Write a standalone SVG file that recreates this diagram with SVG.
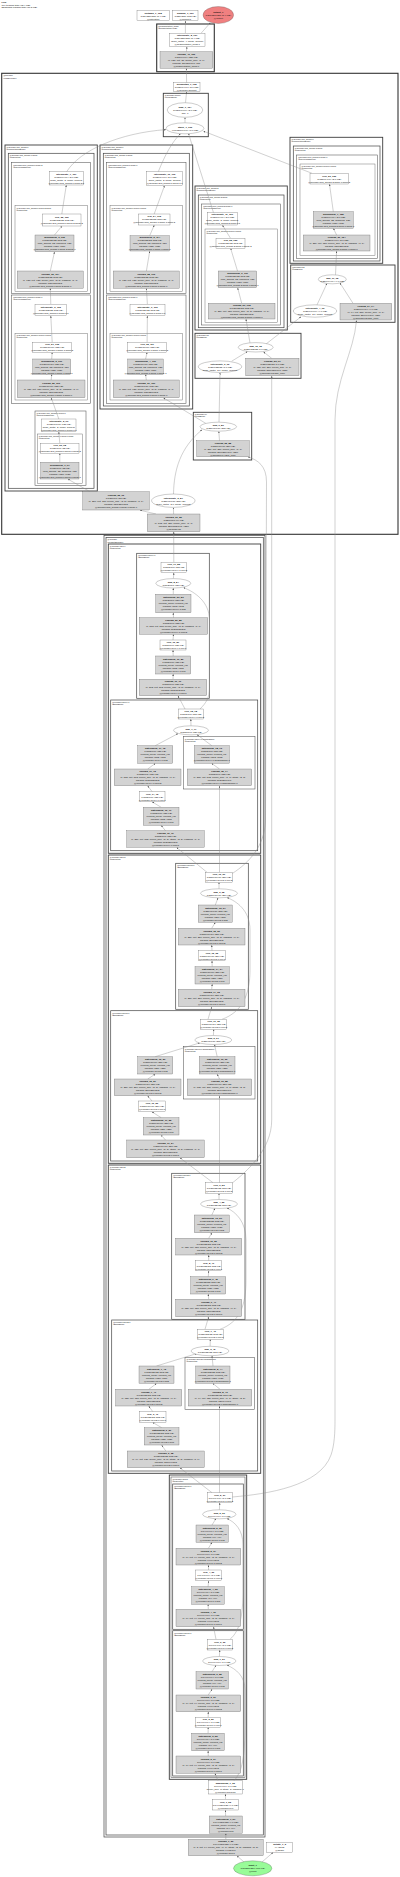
<svg xmlns="http://www.w3.org/2000/svg" width="400" height="1877" viewBox="0 0 400 1877">
<defs>
<style>
text{font-family:"Liberation Sans",Arial,sans-serif;font-size:2.4px;fill:#111}
.t{text-anchor:middle}
.b{font-weight:bold}
.lb{font-size:2.1px}
.w{fill:#fff;stroke:#555;stroke-width:.3}
.g{fill:#d3d3d3;stroke:#555;stroke-width:.3}
.e{fill:#fff;stroke:#555;stroke-width:.3}
.c1{fill:none;stroke:#333;stroke-width:1.1}
.c2{fill:none;stroke:#3c3c3c;stroke-width:.9}
.c3{fill:none;stroke:#444;stroke-width:.7}
.c4{fill:none;stroke:#555;stroke-width:.55}
.c5{fill:none;stroke:#666;stroke-width:.45}
#edges path{fill:none;stroke:#8a8a8a;stroke-width:.4;marker-end:url(#ah)}
</style>
<marker id="ah" viewBox="0 0 10 10" refX="10" refY="5" markerUnits="userSpaceOnUse" markerWidth="1.8" markerHeight="1.8" orient="auto"><path d="M0,0L10,5L0,10z" fill="#555"/></marker>
</defs>
<rect width="400" height="1877" fill="#fff"/>
<g id="title"><text x="1.5" y="3.2" class="b">FPN</text><text x="1.5" y="5.6">169 tensors total (62.4 MB)</text><text x="1.5" y="8">23156565 params total (88.3 MB)</text></g>

<g id="clusters">
<g id="cl_head"><rect class="c1" x="156.7" y="24" width="57.6" height="47.7"/><text class="lb" x="158" y="26.8">@segmentation_head</text><text class="lb" x="158" y="29.1">(SegmentationHead)</text></g>
<g id="cl_decoder"><rect class="c1" x="1.7" y="73.3" width="396.3" height="461" stroke-width="1.4"/><text class="lb" x="3.2" y="76.4">@decoder</text><text class="lb" x="3.2" y="78.7">(FPNDecoder)</text></g>
<g id="cl_merge"><rect class="c2" x="163.3" y="93.3" width="45" height="43.4"/><text class="lb" x="164.6" y="96.1">@decoder.merge</text><text class="lb" x="164.6" y="98.4">(MergeBlock)</text></g>
<g id="cl_sb0"><rect class="c2" x="5" y="145" width="92.3" height="346"/><text class="lb" x="6.3" y="147.8">@decoder.seg_blocks.0</text><text class="lb" x="6.3" y="150.1">(SegmentationBlock)</text></g>
<g id="cl_sb0b"><rect class="c3" x="8.3" y="153.3" width="85.7" height="335"/><text class="lb" x="9.6" y="156.1">@decoder.seg_blocks.0.block</text><text class="lb" x="9.6" y="158.4">(Sequential)</text></g>
<g id="cl_sb0b2"><rect class="c4" x="11.7" y="162.7" width="79" height="131"/><text class="lb" x="13" y="165.5">@decoder.seg_blocks.0.block.2</text><text class="lb" x="13" y="167.8">(Conv3x3GNReLU)</text></g>
<g id="cl_sb0b2b"><rect class="c5" x="15" y="205.7" width="72.3" height="85.6"/><text class="lb" x="16.3" y="208.5">@decoder.seg_blocks.0.block.2.block</text><text class="lb" x="16.3" y="210.8">(Sequential)</text></g>
<g id="cl_sb0b1"><rect class="c4" x="11.7" y="295" width="79" height="108.3"/><text class="lb" x="13" y="297.8">@decoder.seg_blocks.0.block.1</text><text class="lb" x="13" y="300.1">(Conv3x3GNReLU)</text></g>
<g id="cl_sb0b1b"><rect class="c5" x="15" y="333.3" width="72.3" height="66.7"/><text class="lb" x="16.3" y="336.1">@decoder.seg_blocks.0.block.1.block</text><text class="lb" x="16.3" y="338.4">(Sequential)</text></g>
<g id="cl_sb0b0"><rect class="c4" x="35" y="411" width="51" height="74.7"/><text class="lb" x="36.3" y="413.8">@decoder.seg_blocks.0.block.0</text><text class="lb" x="36.3" y="416.1">(Conv3x3GNReLU)</text></g>
<g id="cl_sb0b0b"><rect class="c5" x="37.3" y="434" width="45.4" height="49.3"/><text class="lb" x="38.6" y="436.8">@decoder.seg_blocks.0.block.0.block</text><text class="lb" x="38.6" y="439.1">(Sequential)</text></g>
<g id="cl_sb1"><rect class="c2" x="100" y="145" width="92.7" height="264"/><text class="lb" x="101.3" y="147.8">@decoder.seg_blocks.1</text><text class="lb" x="101.3" y="150.1">(SegmentationBlock)</text></g>
<g id="cl_sb1b"><rect class="c3" x="103.3" y="153.3" width="86" height="252.7"/><text class="lb" x="104.6" y="156.1">@decoder.seg_blocks.1.block</text><text class="lb" x="104.6" y="158.4">(Sequential)</text></g>
<g id="cl_sb1b1"><rect class="c4" x="106.7" y="162.7" width="79.3" height="131"/><text class="lb" x="108" y="165.5">@decoder.seg_blocks.1.block.1</text><text class="lb" x="108" y="167.8">(Conv3x3GNReLU)</text></g>
<g id="cl_sb1b1b"><rect class="c5" x="110" y="205.7" width="72.7" height="85.6"/><text class="lb" x="111.3" y="208.5">@decoder.seg_blocks.1.block.1.block</text><text class="lb" x="111.3" y="210.8">(Sequential)</text></g>
<g id="cl_sb1b0"><rect class="c4" x="106.7" y="295" width="79.3" height="108.5"/><text class="lb" x="108" y="297.8">@decoder.seg_blocks.1.block.0</text><text class="lb" x="108" y="300.1">(Conv3x3GNReLU)</text></g>
<g id="cl_sb1b0b"><rect class="c5" x="110" y="333.3" width="72.7" height="66.7"/><text class="lb" x="111.3" y="336.1">@decoder.seg_blocks.1.block.0.block</text><text class="lb" x="111.3" y="338.4">(Sequential)</text></g>
<g id="cl_sb2"><rect class="c2" x="195" y="186" width="92.3" height="144"/><text class="lb" x="196.3" y="188.8">@decoder.seg_blocks.2</text><text class="lb" x="196.3" y="191.1">(SegmentationBlock)</text></g>
<g id="cl_sb2b"><rect class="c3" x="198.3" y="195" width="85.7" height="132.7"/><text class="lb" x="199.6" y="197.8">@decoder.seg_blocks.2.block</text><text class="lb" x="199.6" y="200.1">(Sequential)</text></g>
<g id="cl_sb2b0"><rect class="c4" x="201.7" y="204" width="79" height="121"/><text class="lb" x="203" y="206.8">@decoder.seg_blocks.2.block.0</text><text class="lb" x="203" y="209.1">(Conv3x3GNReLU)</text></g>
<g id="cl_sb2b0b"><rect class="c5" x="205" y="229" width="72.3" height="93.3"/><text class="lb" x="206.3" y="231.8">@decoder.seg_blocks.2.block.0.block</text><text class="lb" x="206.3" y="234.1">(Sequential)</text></g>
<g id="cl_sb3"><rect class="c2" x="290" y="137.3" width="92.7" height="126"/><text class="lb" x="291.3" y="140.1">@decoder.seg_blocks.3</text><text class="lb" x="291.3" y="142.4">(SegmentationBlock)</text></g>
<g id="cl_sb3b"><rect class="c3" x="293.3" y="146" width="86.7" height="115"/><text class="lb" x="294.6" y="148.8">@decoder.seg_blocks.3.block</text><text class="lb" x="294.6" y="151.1">(Sequential)</text></g>
<g id="cl_sb3b0"><rect class="c4" x="296.7" y="155" width="80.6" height="103.3"/><text class="lb" x="298" y="157.8">@decoder.seg_blocks.3.block.0</text><text class="lb" x="298" y="160.1">(Conv3x3GNReLU)</text></g>
<g id="cl_sb3b0b"><rect class="c5" x="300" y="164" width="75" height="91.7"/><text class="lb" x="301.3" y="166.8">@decoder.seg_blocks.3.block.0.block</text><text class="lb" x="301.3" y="169.1">(Sequential)</text></g>
<g id="cl_p2"><rect class="c2" x="290.7" y="265" width="104.3" height="57.3"/><text class="lb" x="292" y="267.8">@decoder.p2</text><text class="lb" x="292" y="270.1">(FPNBlock)</text></g>
<g id="cl_p3"><rect class="c2" x="195" y="333.3" width="106" height="45"/><text class="lb" x="196.3" y="336.1">@decoder.p3</text><text class="lb" x="196.3" y="338.4">(FPNBlock)</text></g>
<g id="cl_p4"><rect class="c2" x="193.3" y="412.3" width="58.4" height="47.7"/><text class="lb" x="194.6" y="415.1">@decoder.p4</text><text class="lb" x="194.6" y="417.4">(FPNBlock)</text></g>
<g id="cl_encoder"><rect class="c3" x="104" y="535.5" width="161" height="1301.5"/><rect class="c3" x="106" y="537.5" width="157.3" height="1297.5"/><text class="lb" x="107.3" y="540.2">@encoder</text><text class="lb" x="107.3" y="542.5">(ResNetEncoder)</text></g>
<g id="cl_layer4"><rect class="c2" x="108.3" y="544" width="152.4" height="309.3"/><text class="lb" x="109.6" y="546.8">@encoder.layer4</text><text class="lb" x="109.6" y="549.1">(Sequential)</text></g>
<g id="cl_layer4_1"><rect class="c3" x="136.7" y="553.3" width="72.6" height="145"/><text class="lb" x="138" y="556.1">@encoder.layer4.1</text><text class="lb" x="138" y="558.4">(BasicBlock)</text></g>
<g id="cl_layer4_0"><rect class="c3" x="110.7" y="700" width="147" height="150.7"/><text class="lb" x="112" y="702.8">@encoder.layer4.0</text><text class="lb" x="112" y="705.1">(BasicBlock)</text></g>
<g id="cl_layer4_0_ds"><rect class="c4" x="183.3" y="736.7" width="71.7" height="52.3"/><text class="lb" x="184.6" y="739.5">@encoder.layer4.0.downsample</text><text class="lb" x="184.6" y="741.8">(Sequential)</text></g>
<g id="cl_layer3"><rect class="c2" x="108.3" y="855" width="152.4" height="308.3"/><text class="lb" x="109.6" y="857.8">@encoder.layer3</text><text class="lb" x="109.6" y="860.1">(Sequential)</text></g>
<g id="cl_layer3_1"><rect class="c3" x="175.7" y="863.3" width="72.6" height="146"/><text class="lb" x="177" y="866.1">@encoder.layer3.1</text><text class="lb" x="177" y="868.4">(BasicBlock)</text></g>
<g id="cl_layer3_0"><rect class="c3" x="110.7" y="1010.7" width="147" height="150.3"/><text class="lb" x="112" y="1013.5">@encoder.layer3.0</text><text class="lb" x="112" y="1015.8">(BasicBlock)</text></g>
<g id="cl_layer3_0_ds"><rect class="c4" x="183.3" y="1046.7" width="71.7" height="52.3"/><text class="lb" x="184.6" y="1049.5">@encoder.layer3.0.downsample</text><text class="lb" x="184.6" y="1051.8">(Sequential)</text></g>
<g id="cl_layer2"><rect class="c2" x="108.3" y="1165" width="152.4" height="308.3"/><text class="lb" x="109.6" y="1167.8">@encoder.layer2</text><text class="lb" x="109.6" y="1170.1">(Sequential)</text></g>
<g id="cl_layer2_1"><rect class="c3" x="171.7" y="1173.3" width="73.3" height="146"/><text class="lb" x="173" y="1176.1">@encoder.layer2.1</text><text class="lb" x="173" y="1178.4">(BasicBlock)</text></g>
<g id="cl_layer2_0"><rect class="c3" x="111.7" y="1320" width="146" height="151"/><text class="lb" x="113" y="1322.8">@encoder.layer2.0</text><text class="lb" x="113" y="1325.1">(BasicBlock)</text></g>
<g id="cl_layer2_0_ds"><rect class="c4" x="185" y="1357.3" width="69.3" height="52"/><text class="lb" x="186.3" y="1360.1">@encoder.layer2.0.downsample</text><text class="lb" x="186.3" y="1362.4">(Sequential)</text></g>
<g id="cl_layer1"><rect class="c2" x="169.3" y="1475" width="77.4" height="304.3"/><rect class="c4" x="171" y="1477" width="74" height="300.7"/><text class="lb" x="172.2" y="1479.6">@encoder.layer1</text><text class="lb" x="172.2" y="1481.9">(Sequential)</text></g>
<g id="cl_layer1_1"><rect class="c3" x="172.7" y="1484" width="70.6" height="145.3"/><text class="lb" x="174" y="1486.8">@encoder.layer1.1</text><text class="lb" x="174" y="1489.1">(BasicBlock)</text></g>
<g id="cl_layer1_0"><rect class="c3" x="172.7" y="1630.7" width="70.6" height="145.3"/><text class="lb" x="174" y="1633.5">@encoder.layer1.0</text><text class="lb" x="174" y="1635.8">(BasicBlock)</text></g>
</g>

<g id="edges">
<path d="M244,1862 L237,1855.9"/>
<path d="M262,1862 L273,1852.5"/>
<path d="M225.8,1839.3 L225.8,1833.5"/>
<path d="M225.6,1816 L225.5,1810.2"/>
<path d="M225.5,1799.3 L225.4,1794.2"/>
<path d="M218,1780.7 L215,1773.5"/>
<path d="M234,1780.7 C244,1770 245,1750 245,1720 L245,1690 C245,1676 236,1669 227,1665.2"/>
<path d="M208.3,1756 L208.1,1750.9"/>
<path d="M208.1,1733.3 L208.2,1727.5"/>
<path d="M208.2,1717.3 L208.3,1711.9"/>
<path d="M208.3,1695 L212,1689.2"/>
<path d="M212,1671.7 L216,1665.2"/>
<path d="M219.4,1656.5 L219.7,1650.2"/>
<path d="M216,1639.3 L213.5,1626.9"/>
<path d="M230,1639.3 C240,1631 243,1615 243,1590 L243,1545 C243,1530 235,1522 227,1518.6"/>
<path d="M208.3,1609.3 L208.1,1604.5"/>
<path d="M208.1,1586.7 L208.6,1580.9"/>
<path d="M208.6,1570 L208.4,1565.2"/>
<path d="M208.4,1548.3 L212,1542.5"/>
<path d="M212,1525 L216,1518.6"/>
<path d="M219.4,1509.8 L219.7,1502.9"/>
<path d="M212,1492.7 L180,1467.9"/>
<path d="M219.5,1492.7 L219.5,1406.2"/>
<path d="M232.3,1497 C268,1494 320,1486 331,1455 C334.5,1445 335,1432 335,1420 L335,420 C335,380 354,352 356.5,320.5"/>
<path d="M165.8,1451 L161.7,1445.2"/>
<path d="M161.7,1427.7 L152.8,1422.5"/>
<path d="M152.8,1411.7 L148.8,1406.2"/>
<path d="M148.8,1389.3 L156.5,1383.5"/>
<path d="M156.5,1366 L197,1353.5"/>
<path d="M220,1389.3 L213,1383.5"/>
<path d="M213,1366 L212,1355.8"/>
<path d="M210.1,1346.3 L210.3,1339.5"/>
<path d="M205,1329.3 L208.6,1316.9"/>
<path d="M220,1329.3 C240,1322 246,1305 246,1280 L246,1240 C246,1222 236,1212 227,1208.1"/>
<path d="M208.7,1299.3 L208.3,1294.2"/>
<path d="M208.3,1276.7 L208.7,1270.9"/>
<path d="M208.7,1260.7 L208.7,1255.2"/>
<path d="M208.7,1238.3 L211.8,1232.9"/>
<path d="M211.8,1215 L215,1208.3"/>
<path d="M219,1199.5 L219,1193.5"/>
<path d="M213,1182.7 L180,1157.9"/>
<path d="M219.5,1182.7 L219.5,1095.9"/>
<path d="M232.3,1183 C246,1172 271.7,1150 271.7,1120 L271.7,376"/>
<path d="M165.5,1140 L161.2,1135.2"/>
<path d="M161.2,1117.7 L152,1111.9"/>
<path d="M152,1101 L147.7,1095.9"/>
<path d="M147.7,1079 L155.2,1074.2"/>
<path d="M155.2,1056.7 L200,1042.8"/>
<path d="M219.5,1079 L217.2,1074.2"/>
<path d="M217.2,1056.7 L214.5,1044.6"/>
<path d="M213.4,1035.5 L213.7,1029.5"/>
<path d="M208,1019.3 L211.7,1006.9"/>
<path d="M222,1019.3 C242,1012 250,995 250,970 L250,930 C250,910 236,901 227,897.6"/>
<path d="M211.7,989.3 L212.2,984.2"/>
<path d="M212.2,966.7 L212,960.9"/>
<path d="M212,950.7 L211.7,945.2"/>
<path d="M211.7,928.3 L215.3,922.5"/>
<path d="M215.3,905 L218,897.9"/>
<path d="M219,888.8 L219,882.5"/>
<path d="M207,872.3 L176.7,847.5"/>
<path d="M219.5,872.3 L219.5,785.9"/>
<path d="M232.3,873.5 C250,862 264,846 265.5,822 L266.5,482 C266.5,466 258,460 248,456.9"/>
<path d="M165.5,830.7 L161.2,825.5"/>
<path d="M161.2,807.3 L152.2,801.9"/>
<path d="M152.2,791.7 L147.7,785.9"/>
<path d="M147.7,769 L155.2,763.5"/>
<path d="M155.2,745.7 L178,733.6"/>
<path d="M219.5,769 L211.8,763.5"/>
<path d="M211.8,745.7 L197,734.6"/>
<path d="M191,725.8 L190.8,719.2"/>
<path d="M185,709 L178,695.9"/>
<path d="M200,709 C206,703 209.5,698 209.5,688 L209.5,620 C209.5,602 195,592 183.5,587.6"/>
<path d="M173,679.3 L173.2,674.2"/>
<path d="M173.2,656 L173,650.2"/>
<path d="M173,640 L173.5,634.5"/>
<path d="M173.5,617.7 L173.3,612.9"/>
<path d="M173.3,594.3 L173.3,588.2"/>
<path d="M173.4,578.6 L173.8,572.9"/>
<path d="M173.8,562.3 L173.7,531.9"/>
<path d="M173.6,514 L173.4,507.6"/>
<path d="M156,514 L140,510.2"/>
<path d="M90,491.7 L68,479.2"/>
<path d="M173.5,494 C174,470 180,448 202,429.8"/>
<path d="M219.5,440.7 L218.8,431.4"/>
<path d="M219,422.2 L220,372.7"/>
<path d="M206,423.5 L163.5,397.9"/>
<path d="M231.7,361.2 L247.5,351.5"/>
<path d="M271.7,358.3 L263.5,351.9"/>
<path d="M250,343 L246,319.2"/>
<path d="M266,344 L301,316.8"/>
<path d="M317,304.9 L327,283.4"/>
<path d="M353,303.3 L340,283"/>
<path d="M335.5,274.9 L336.6,251.2"/>
<path d="M336.6,235 L333.4,228.5"/>
<path d="M333.3,211.7 L329.5,184.2"/>
<path d="M312,173.3 L203.5,131.2"/>
<path d="M241.7,303.3 L237.7,287.9"/>
<path d="M237.5,271 L230.7,248.5"/>
<path d="M230.5,238.3 L222.5,225.2"/>
<path d="M213.5,212.7 L188.5,133.6"/>
<path d="M146.3,380 L145.6,374.5"/>
<path d="M145.6,359 L147.1,352.5"/>
<path d="M147.1,342.3 L147.4,315.9"/>
<path d="M147.4,304.3 L146.4,288.5"/>
<path d="M146.4,271 L149.7,251.2"/>
<path d="M149.7,235.7 L154.2,225.2"/>
<path d="M154.2,214 L164.5,185.7"/>
<path d="M158.3,171.7 C165,155 172,142 180.5,133.7"/>
<path d="M59.8,462.3 L59.8,453.5"/>
<path d="M59.8,443.3 L58.8,431.9"/>
<path d="M58.8,419 L51.3,397.9"/>
<path d="M51.2,380 L51.7,374.5"/>
<path d="M51.7,359 L52.2,352.5"/>
<path d="M52.2,342.3 L50.8,315.9"/>
<path d="M50.8,304.3 L50.3,288.5"/>
<path d="M50.3,271 L54.5,251.9"/>
<path d="M54.5,235 L61.8,226.2"/>
<path d="M61.8,214 L66.3,185.2"/>
<path d="M66.7,171.7 C80,150 120,133 166,129.6"/>
<path d="M185,122.8 L185,117.5"/>
<path d="M185.5,102.7 L186.6,91.9"/>
<path d="M186.6,82.7 L186.4,68.5"/>
<path d="M186.4,51.7 L186.9,46.9"/>
<path d="M185.4,33.3 L185.4,20.9"/>
<path d="M201,33.3 L210.5,22.6"/>
</g>

<g id="n_softmax"><rect class="w" x="137" y="10.7" width="32.3" height="10"/><text class="t" y="13.6"><tspan x="153.2" class="b">softmax_1_168</tspan><tspan x="153.2" dy="3">1x21x256x256 (5.4 MB)</tspan><tspan x="153.2" dy="3">@activation</tspan></text></g>
<g id="n_argmax"><rect class="w" x="172.7" y="10.7" width="25.3" height="10"/><text class="t" y="13.6"><tspan x="185.3" class="b">argmax_1_169</tspan><tspan x="185.3" dy="3">1x256x256 (512 KB)</tspan><tspan x="185.3" dy="3">@predict:1</tspan></text></g>
<g id="n_output"><ellipse cx="218.3" cy="15" rx="15.3" ry="8.5" fill="#f08080" stroke="#555" stroke-width=".3"/><text class="t" y="12.9"><tspan x="218.3" class="b">output_1</tspan><tspan x="218.3" dy="3">1x21x256x256 (5.4 MB)</tspan><tspan x="218.3" dy="3">@output</tspan></text></g>
<g id="n_interp_head"><rect class="w" x="169.3" y="33.3" width="35.7" height="13.4"/><text class="t" y="36.4"><tspan x="187.2" class="b">interpolate_8_167</tspan><tspan x="187.2" dy="3">1x21x256x256 (5.4 MB)</tspan><tspan x="187.2" dy="3">scale_factor=4, mode=bilinear</tspan><tspan x="187.2" dy="3">@segmentation_head.1</tspan></text></g>
<g id="n_conv_head"><rect class="g" x="160" y="51.7" width="52.7" height="16.6"/><text class="t" y="54.9"><tspan x="186.3" class="b">conv2d_40_166</tspan><tspan x="186.3" dy="3">1x21x64x64 (336 KB)</tspan><tspan x="186.3" dy="3">in=128, out=21, kernel_size=(1, 1)</tspan><tspan x="186.3" dy="3">params: 21x128x1x1, x21</tspan><tspan x="186.3" dy="3">@segmentation_head.0</tspan></text></g>
<g id="n_dropout"><rect class="w" x="173.3" y="82.7" width="26.7" height="9"/><text class="t" y="85.1"><tspan x="186.7" class="b">dropout2d_1_165</tspan><tspan x="186.7" dy="3">1x128x64x64 (2.0 MB)</tspan><tspan x="186.7" dy="3">@decoder.dropout</tspan></text></g>
<g id="n_relu_merge"><ellipse class="e" cx="185" cy="110" rx="17.8" ry="7.3"/><text class="t" y="107.9"><tspan x="185" class="b">sum_1_164</tspan><tspan x="185" dy="3">1x128x64x64 (2.0 MB)</tspan><tspan x="185" dy="3">dim=0</tspan></text></g>
<g id="n_stack"><ellipse class="e" cx="185" cy="128.3" rx="19" ry="5.5"/><text class="t" y="127.7"><tspan x="185" class="b">stack_1_163</tspan><tspan x="185" dy="3">4x1x128x64x64 (8.0 MB)</tspan></text></g>

<g id="n_sb0_interp3"><rect class="w" x="49.3" y="171.7" width="34" height="13.3"/><text class="t" y="174.7"><tspan x="66.3" class="b">interpolate_7_107</tspan><tspan x="66.3" dy="3">1x128x64x64 (2.0 MB)</tspan><tspan x="66.3" dy="3">scale_factor=2, mode=bilinear</tspan><tspan x="66.3" dy="3">@decoder.seg_blocks.0.block.2:1</tspan></text></g>
<g id="n_sb0_relu3"><rect class="w" x="42.7" y="214" width="38.3" height="12"/><text class="t" y="217.9"><tspan x="61.8" class="b">relu_22_106</tspan><tspan x="61.8" dy="3">1x128x32x32 (512 KB)</tspan><tspan x="61.8" dy="3">@decoder.seg_blocks.0.block.2.block.2</tspan></text></g>
<g id="n_sb0_gn3"><rect class="g" x="35" y="235" width="39" height="16.7"/><text class="t" y="238.2"><tspan x="54.5" class="b">groupnorm_3_105</tspan><tspan x="54.5" dy="3">1x128x32x32 (512 KB)</tspan><tspan x="54.5" dy="3">num_groups=32, channels=128</tspan><tspan x="54.5" dy="3">params: x128, x128</tspan><tspan x="54.5" dy="3">@decoder.seg_blocks.0.block.2.block.1</tspan></text></g>
<g id="n_sb0_conv3"><rect class="g" x="17.3" y="271" width="66" height="17.3"/><text class="t" y="274.6"><tspan x="50.3" class="b">conv2d_26_104</tspan><tspan x="50.3" dy="3">1x128x32x32 (512 KB)</tspan><tspan x="50.3" dy="3">in=128, out=128, kernel_size=(3, 3), padding=(1, 1)</tspan><tspan x="50.3" dy="3">params: 128x128x3x3</tspan><tspan x="50.3" dy="3">@decoder.seg_blocks.0.block.2.block.0</tspan></text></g>
<g id="n_sb0_interp2"><rect class="w" x="35" y="304.3" width="31.7" height="11.4"/><text class="t" y="307.9"><tspan x="50.8" class="b">interpolate_6_103</tspan><tspan x="50.8" dy="3">1x128x32x32 (512 KB)</tspan><tspan x="50.8" dy="3">@decoder.seg_blocks.0.block.1:1</tspan></text></g>
<g id="n_sb0_relu2"><rect class="w" x="32.7" y="342.3" width="39" height="10"/><text class="t" y="345.2"><tspan x="52.2" class="b">relu_21_102</tspan><tspan x="52.2" dy="3">1x128x16x16 (128 KB)</tspan><tspan x="52.2" dy="3">@decoder.seg_blocks.0.block.1.block.2</tspan></text></g>
<g id="n_sb0_gn2"><rect class="g" x="32.7" y="359" width="38" height="15.3"/><text class="t" y="361.6"><tspan x="51.7" class="b">groupnorm_2_101</tspan><tspan x="51.7" dy="3">1x128x16x16 (128 KB)</tspan><tspan x="51.7" dy="3">num_groups=32, channels=128</tspan><tspan x="51.7" dy="3">params: x128, x128</tspan><tspan x="51.7" dy="3">@decoder.seg_blocks.0.block.1.block.1</tspan></text></g>
<g id="n_sb0_conv2"><rect class="g" x="17.3" y="380" width="67.7" height="17.7"/><text class="t" y="383.7"><tspan x="51.2" class="b">conv2d_25_100</tspan><tspan x="51.2" dy="3">1x128x16x16 (128 KB)</tspan><tspan x="51.2" dy="3">in=128, out=128, kernel_size=(3, 3), padding=(1, 1)</tspan><tspan x="51.2" dy="3">params: 128x128x3x3</tspan><tspan x="51.2" dy="3">@decoder.seg_blocks.0.block.1.block.0</tspan></text></g>
<g id="n_sb0_interp1"><rect class="w" x="41.7" y="419" width="34.3" height="12.7"/><text class="t" y="421.7"><tspan x="58.8" class="b">interpolate_5_99</tspan><tspan x="58.8" dy="3">1x128x16x16 (128 KB)</tspan><tspan x="58.8" dy="3">scale_factor=2, mode=bilinear</tspan><tspan x="58.8" dy="3">@decoder.seg_blocks.0.block.0:1</tspan></text></g>
<g id="n_sb0_relu1"><rect class="w" x="40.7" y="443.3" width="38.3" height="10"/><text class="t" y="446.2"><tspan x="59.8" class="b">relu_20_98</tspan><tspan x="59.8" dy="3">1x128x8x8 (32 KB)</tspan><tspan x="59.8" dy="3">@decoder.seg_blocks.0.block.0.block.2</tspan></text></g>
<g id="n_sb0_gn1"><rect class="g" x="40.7" y="462.3" width="38.3" height="16.7"/><text class="t" y="465.6"><tspan x="59.8" class="b">groupnorm_1_97</tspan><tspan x="59.8" dy="3">1x128x8x8 (32 KB)</tspan><tspan x="59.8" dy="3">num_groups=32, channels=128</tspan><tspan x="59.8" dy="3">params: x128, x128</tspan><tspan x="59.8" dy="3">@decoder.seg_blocks.0.block.0.block.1</tspan></text></g>

<g id="n_sb1_interp2"><rect class="w" x="146.7" y="171.7" width="36" height="13.8"/><text class="t" y="175"><tspan x="164.7" class="b">interpolate_10_116</tspan><tspan x="164.7" dy="3">1x128x64x64 (2.0 MB)</tspan><tspan x="164.7" dy="3">scale_factor=2, mode=bilinear</tspan><tspan x="164.7" dy="3">@decoder.seg_blocks.1.block.1:1</tspan></text></g>
<g id="n_sb1_relu2"><rect class="w" x="138.3" y="214" width="31.7" height="11"/><text class="t" y="217.4"><tspan x="154.2" class="b">relu_24_115</tspan><tspan x="154.2" dy="3">1x128x32x32 (512 KB)</tspan><tspan x="154.2" dy="3">@decoder.seg_blocks.1.block.1.block.2</tspan></text></g>
<g id="n_sb1_gn2"><rect class="g" x="130" y="235.7" width="39.3" height="15.3"/><text class="t" y="238.2"><tspan x="149.7" class="b">groupnorm_5_114</tspan><tspan x="149.7" dy="3">1x128x32x32 (512 KB)</tspan><tspan x="149.7" dy="3">num_groups=32, channels=128</tspan><tspan x="149.7" dy="3">params: x128, x128</tspan><tspan x="149.7" dy="3">@decoder.seg_blocks.1.block.1.block.1</tspan></text></g>
<g id="n_sb1_conv2"><rect class="g" x="113.3" y="271" width="66" height="17.3"/><text class="t" y="274.6"><tspan x="146.3" class="b">conv2d_28_113</tspan><tspan x="146.3" dy="3">1x128x32x32 (512 KB)</tspan><tspan x="146.3" dy="3">in=128, out=128, kernel_size=(3, 3), padding=(1, 1)</tspan><tspan x="146.3" dy="3">params: 128x128x3x3</tspan><tspan x="146.3" dy="3">@decoder.seg_blocks.1.block.1.block.0</tspan></text></g>
<g id="n_sb1_interp1"><rect class="w" x="130" y="304.3" width="35" height="11.4"/><text class="t" y="307.9"><tspan x="147.5" class="b">interpolate_9_112</tspan><tspan x="147.5" dy="3">1x128x32x32 (512 KB)</tspan><tspan x="147.5" dy="3">@decoder.seg_blocks.1.block.0:1</tspan></text></g>
<g id="n_sb1_relu1"><rect class="w" x="127.7" y="342.3" width="39" height="10"/><text class="t" y="345.2"><tspan x="147.2" class="b">relu_23_111</tspan><tspan x="147.2" dy="3">1x128x16x16 (128 KB)</tspan><tspan x="147.2" dy="3">@decoder.seg_blocks.1.block.0.block.2</tspan></text></g>
<g id="n_sb1_gn1"><rect class="g" x="127.7" y="359" width="35.6" height="15.3"/><text class="t" y="361.6"><tspan x="145.5" class="b">groupnorm_4_110</tspan><tspan x="145.5" dy="3">1x128x16x16 (128 KB)</tspan><tspan x="145.5" dy="3">num_groups=32, channels=128</tspan><tspan x="145.5" dy="3">params: x128, x128</tspan><tspan x="145.5" dy="3">@decoder.seg_blocks.1.block.0.block.1</tspan></text></g>
<g id="n_sb1_conv1"><rect class="g" x="113.3" y="380" width="66" height="17.7"/><text class="t" y="383.7"><tspan x="146.3" class="b">conv2d_27_109</tspan><tspan x="146.3" dy="3">1x128x16x16 (128 KB)</tspan><tspan x="146.3" dy="3">in=256, out=128, kernel_size=(3, 3), padding=(1, 1)</tspan><tspan x="146.3" dy="3">params: 128x256x3x3</tspan><tspan x="146.3" dy="3">@decoder.seg_blocks.1.block.0.block.0</tspan></text></g>

<g id="n_sb2_interp"><rect class="w" x="207.3" y="212.7" width="30" height="12.3"/><text class="t" y="215.2"><tspan x="222.3" class="b">interpolate_11_121</tspan><tspan x="222.3" dy="3">1x128x64x64 (2.0 MB)</tspan><tspan x="222.3" dy="3">scale_factor=2, mode=bilinear</tspan><tspan x="222.3" dy="3">@decoder.seg_blocks.2.block.0:1</tspan></text></g>
<g id="n_sb2_relu"><rect class="w" x="216" y="238.3" width="29" height="10"/><text class="t" y="241.2"><tspan x="230.5" class="b">relu_25_120</tspan><tspan x="230.5" dy="3">1x128x32x32 (512 KB)</tspan><tspan x="230.5" dy="3">@decoder.seg_blocks.2.block.0.block.2</tspan></text></g>
<g id="n_sb2_gn"><rect class="g" x="218.3" y="271" width="38.4" height="16.7"/><text class="t" y="274.2"><tspan x="237.5" class="b">groupnorm_6_119</tspan><tspan x="237.5" dy="3">1x128x32x32 (512 KB)</tspan><tspan x="237.5" dy="3">num_groups=32, channels=128</tspan><tspan x="237.5" dy="3">params: x128, x128</tspan><tspan x="237.5" dy="3">@decoder.seg_blocks.2.block.0.block.1</tspan></text></g>
<g id="n_sb2_conv"><rect class="g" x="208.3" y="303.3" width="66.7" height="15.7"/><text class="t" y="306.1"><tspan x="241.7" class="b">conv2d_29_118</tspan><tspan x="241.7" dy="3">1x128x32x32 (512 KB)</tspan><tspan x="241.7" dy="3">in=256, out=128, kernel_size=(3, 3), padding=(1, 1)</tspan><tspan x="241.7" dy="3">params: 128x256x3x3</tspan><tspan x="241.7" dy="3">@decoder.seg_blocks.2.block.0.block.0</tspan></text></g>

<g id="n_sb3_relu"><rect class="w" x="310" y="173.3" width="38.3" height="10.7"/><text class="t" y="176.6"><tspan x="329.2" class="b">relu_26_126</tspan><tspan x="329.2" dy="3">1x128x64x64 (2.0 MB)</tspan><tspan x="329.2" dy="3">@decoder.seg_blocks.3.block.0.block.2</tspan></text></g>
<g id="n_sb3_gn"><rect class="g" x="313.3" y="211.7" width="40" height="16.6"/><text class="t" y="214.9"><tspan x="333.3" class="b">groupnorm_7_125</tspan><tspan x="333.3" dy="3">1x128x64x64 (2.0 MB)</tspan><tspan x="333.3" dy="3">num_groups=32, channels=128</tspan><tspan x="333.3" dy="3">params: x128, x128</tspan><tspan x="333.3" dy="3">@decoder.seg_blocks.3.block.0.block.1</tspan></text></g>
<g id="n_sb3_conv"><rect class="g" x="303.3" y="235" width="66.7" height="16"/><text class="t" y="237.9"><tspan x="336.7" class="b">conv2d_30_124</tspan><tspan x="336.7" dy="3">1x128x64x64 (2.0 MB)</tspan><tspan x="336.7" dy="3">in=256, out=128, kernel_size=(3, 3), padding=(1, 1)</tspan><tspan x="336.7" dy="3">params: 128x256x3x3</tspan><tspan x="336.7" dy="3">@decoder.seg_blocks.3.block.0.block.0</tspan></text></g>

<g id="n_p2_add"><ellipse class="e" cx="332.3" cy="279.3" rx="14" ry="4.5"/><text class="t" y="278.7"><tspan x="332.3" class="b">add_11_95</tspan><tspan x="332.3" dy="3">1x256x64x64 (4.0 MB)</tspan></text></g>
<g id="n_p2_interp"><ellipse class="e" cx="315" cy="311" rx="21.7" ry="6.2"/><text class="t" y="308.9"><tspan x="315" class="b">interpolate_4_93</tspan><tspan x="315" dy="3">1x256x64x64 (4.0 MB)</tspan><tspan x="315" dy="3">scale_factor=2.0, mode=nearest</tspan></text></g>
<g id="n_p2_skip"><rect class="g" x="340" y="303.3" width="51.7" height="16.7"/><text class="t" y="306.6"><tspan x="365.8" class="b">conv2d_24_94</tspan><tspan x="365.8" dy="3">1x256x64x64 (4.0 MB)</tspan><tspan x="365.8" dy="3">in=64, out=256, kernel_size=(1, 1)</tspan><tspan x="365.8" dy="3">params: 256x64x1x1, x256</tspan><tspan x="365.8" dy="3">@decoder.p2.skip_conv</tspan></text></g>
<g id="n_p3_add"><ellipse class="e" cx="255.7" cy="347.3" rx="17.5" ry="4.7"/><text class="t" y="346.7"><tspan x="255.7" class="b">add_10_92</tspan><tspan x="255.7" dy="3">1x256x32x32 (1.0 MB)</tspan></text></g>
<g id="n_p3_interp"><ellipse class="e" cx="220" cy="366.7" rx="21.7" ry="5.8"/><text class="t" y="364.6"><tspan x="220" class="b">interpolate_3_90</tspan><tspan x="220" dy="3">1x256x32x32 (1.0 MB)</tspan><tspan x="220" dy="3">scale_factor=2.0, mode=nearest</tspan></text></g>
<g id="n_p3_skip"><rect class="g" x="245.7" y="358.3" width="53.3" height="17.4"/><text class="t" y="361.9"><tspan x="272.3" class="b">conv2d_23_91</tspan><tspan x="272.3" dy="3">1x256x32x32 (1.0 MB)</tspan><tspan x="272.3" dy="3">in=128, out=256, kernel_size=(1, 1)</tspan><tspan x="272.3" dy="3">params: 256x128x1x1, x256</tspan><tspan x="272.3" dy="3">@decoder.p3.skip_conv</tspan></text></g>
<g id="n_p4_add"><ellipse class="e" cx="218.3" cy="426.7" rx="18.3" ry="4.5"/><text class="t" y="426.1"><tspan x="218.3" class="b">add_9_89</tspan><tspan x="218.3" dy="3">1x256x16x16 (256 KB)</tspan></text></g>
<g id="n_p4_skip"><rect class="g" x="196.7" y="440.7" width="52.6" height="16"/><text class="t" y="443.6"><tspan x="223" class="b">conv2d_22_88</tspan><tspan x="223" dy="3">1x256x16x16 (256 KB)</tspan><tspan x="223" dy="3">in=256, out=256, kernel_size=(1, 1)</tspan><tspan x="223" dy="3">params: 256x256x1x1, x256</tspan><tspan x="223" dy="3">@decoder.p4.skip_conv</tspan></text></g>
<g id="n_sb0_conv1"><rect class="g" x="82.7" y="491.7" width="66.6" height="18.3"/><text class="t" y="495.7"><tspan x="116" class="b">conv2d_25_96</tspan><tspan x="116" dy="3">1x128x8x8 (32 KB)</tspan><tspan x="116" dy="3">in=256, out=128, kernel_size=(3, 3), padding=(1, 1)</tspan><tspan x="116" dy="3">params: 128x256x3x3</tspan><tspan x="116" dy="3">@decoder.seg_blocks.0.block.0.block.0</tspan></text></g>
<g id="n_p4_interp"><ellipse class="e" cx="173.3" cy="500.7" rx="21.7" ry="6.7"/><text class="t" y="498.6"><tspan x="173.3" class="b">interpolate_2_87</tspan><tspan x="173.3" dy="3">1x256x16x16 (256 KB)</tspan><tspan x="173.3" dy="3">scale_factor=2.0, mode=nearest</tspan></text></g>
<g id="n_p5"><rect class="g" x="147.3" y="514" width="52.7" height="17.7"/><text class="t" y="517.7"><tspan x="173.7" class="b">conv2d_21_86</tspan><tspan x="173.7" dy="3">1x256x8x8 (64 KB)</tspan><tspan x="173.7" dy="3">in=512, out=256, kernel_size=(1, 1)</tspan><tspan x="173.7" dy="3">params: 256x512x1x1, x256</tspan><tspan x="173.7" dy="3">@decoder.p5</tspan></text></g>

<g id="n_l4_1_relu2"><rect class="w" x="161" y="562.3" width="25.7" height="10.4"/><text class="t" y="565.4"><tspan x="173.8" class="b">relu_17_85</tspan><tspan x="173.8" dy="3">1x512x8x8 (128 KB)</tspan><tspan x="173.8" dy="3">@encoder.layer4.1.relu:2</tspan></text></g>
<g id="n_l4_1_add"><ellipse class="e" cx="173.3" cy="583.3" rx="17.5" ry="4.7"/><text class="t" y="582.7"><tspan x="173.3" class="b">add_8_84</tspan><tspan x="173.3" dy="3">1x512x8x8 (128 KB)</tspan></text></g>
<g id="n_l4_1_bn2"><rect class="g" x="155.7" y="594.3" width="35.3" height="18.4"/><text class="t" y="598.4"><tspan x="173.3" class="b">batchnorm_20_83</tspan><tspan x="173.3" dy="3">1x512x8x8 (128 KB)</tspan><tspan x="173.3" dy="3">running_mean, running_var</tspan><tspan x="173.3" dy="3">params: x512, x512</tspan><tspan x="173.3" dy="3">@encoder.layer4.1.bn2</tspan></text></g>
<g id="n_l4_1_conv2"><rect class="g" x="139.3" y="617.7" width="68.4" height="16.6"/><text class="t" y="620.9"><tspan x="173.5" class="b">conv2d_20_82</tspan><tspan x="173.5" dy="3">1x512x8x8 (128 KB)</tspan><tspan x="173.5" dy="3">in=512, out=512, kernel_size=(3, 3), padding=(1, 1)</tspan><tspan x="173.5" dy="3">params: 512x512x3x3</tspan><tspan x="173.5" dy="3">@encoder.layer4.1.conv2</tspan></text></g>
<g id="n_l4_1_relu1"><rect class="w" x="160" y="640" width="26" height="10"/><text class="t" y="642.9"><tspan x="173" class="b">relu_16_81</tspan><tspan x="173" dy="3">1x512x8x8 (128 KB)</tspan><tspan x="173" dy="3">@encoder.layer4.1.relu:1</tspan></text></g>
<g id="n_l4_1_bn1"><rect class="g" x="155.7" y="656" width="35" height="18"/><text class="t" y="659.9"><tspan x="173.2" class="b">batchnorm_19_80</tspan><tspan x="173.2" dy="3">1x512x8x8 (128 KB)</tspan><tspan x="173.2" dy="3">running_mean, running_var</tspan><tspan x="173.2" dy="3">params: x512, x512</tspan><tspan x="173.2" dy="3">@encoder.layer4.1.bn1</tspan></text></g>
<g id="n_l4_1_conv1"><rect class="g" x="139.3" y="679.3" width="67.4" height="16.4"/><text class="t" y="682.4"><tspan x="173" class="b">conv2d_19_79</tspan><tspan x="173" dy="3">1x512x8x8 (128 KB)</tspan><tspan x="173" dy="3">in=512, out=512, kernel_size=(3, 3), padding=(1, 1)</tspan><tspan x="173" dy="3">params: 512x512x3x3</tspan><tspan x="173" dy="3">@encoder.layer4.1.conv1</tspan></text></g>
<g id="n_l4_0_relu2"><rect class="w" x="178.3" y="709" width="25" height="10"/><text class="t" y="711.9"><tspan x="190.8" class="b">relu_15_78</tspan><tspan x="190.8" dy="3">1x512x8x8 (128 KB)</tspan><tspan x="190.8" dy="3">@encoder.layer4.0.relu:2</tspan></text></g>
<g id="n_l4_0_add"><ellipse class="e" cx="191" cy="730.3" rx="17.5" ry="4.5"/><text class="t" y="729.7"><tspan x="191" class="b">add_7_77</tspan><tspan x="191" dy="3">1x512x8x8 (128 KB)</tspan></text></g>
<g id="n_l4_0_bn2"><rect class="g" x="137.7" y="745.7" width="35" height="17.6"/><text class="t" y="749.4"><tspan x="155.2" class="b">batchnorm_17_75</tspan><tspan x="155.2" dy="3">1x512x8x8 (128 KB)</tspan><tspan x="155.2" dy="3">running_mean, running_var</tspan><tspan x="155.2" dy="3">params: x512, x512</tspan><tspan x="155.2" dy="3">@encoder.layer4.0.bn2</tspan></text></g>
<g id="n_l4_0_dsbn"><rect class="g" x="194.3" y="745.7" width="35" height="17.6"/><text class="t" y="749.4"><tspan x="211.8" class="b">batchnorm_18_76</tspan><tspan x="211.8" dy="3">1x512x8x8 (128 KB)</tspan><tspan x="211.8" dy="3">running_mean, running_var</tspan><tspan x="211.8" dy="3">params: x512, x512</tspan><tspan x="211.8" dy="3">@encoder.layer4.0.downsample.1</tspan></text></g>
<g id="n_l4_0_dsconv"><rect class="g" x="187.3" y="769" width="64.4" height="16.7"/><text class="t" y="772.2"><tspan x="219.5" class="b">conv2d_18_74</tspan><tspan x="219.5" dy="3">1x512x8x8 (128 KB)</tspan><tspan x="219.5" dy="3">in=256, out=512, kernel_size=(1, 1), stride=(2, 2)</tspan><tspan x="219.5" dy="3">params: 512x256x1x1</tspan><tspan x="219.5" dy="3">@encoder.layer4.0.downsample.0</tspan></text></g>
<g id="n_l4_0_conv2"><rect class="g" x="114.3" y="769" width="66.7" height="16.7"/><text class="t" y="772.2"><tspan x="147.7" class="b">conv2d_17_73</tspan><tspan x="147.7" dy="3">1x512x8x8 (128 KB)</tspan><tspan x="147.7" dy="3">in=512, out=512, kernel_size=(3, 3), padding=(1, 1)</tspan><tspan x="147.7" dy="3">params: 512x512x3x3</tspan><tspan x="147.7" dy="3">@encoder.layer4.0.conv2</tspan></text></g>
<g id="n_l4_0_relu1"><rect class="w" x="139.3" y="791.7" width="25.7" height="10"/><text class="t" y="794.6"><tspan x="152.2" class="b">relu_14_72</tspan><tspan x="152.2" dy="3">1x512x8x8 (128 KB)</tspan><tspan x="152.2" dy="3">@encoder.layer4.0.relu:1</tspan></text></g>
<g id="n_l4_0_bn1"><rect class="g" x="143.3" y="807.3" width="35.7" height="18"/><text class="t" y="811.2"><tspan x="161.2" class="b">batchnorm_16_71</tspan><tspan x="161.2" dy="3">1x512x8x8 (128 KB)</tspan><tspan x="161.2" dy="3">running_mean, running_var</tspan><tspan x="161.2" dy="3">params: x512, x512</tspan><tspan x="161.2" dy="3">@encoder.layer4.0.bn1</tspan></text></g>
<g id="n_l4_0_conv1"><rect class="g" x="126.7" y="830.7" width="77.6" height="16.6"/><text class="t" y="833.9"><tspan x="165.5" class="b">conv2d_16_70</tspan><tspan x="165.5" dy="3">1x512x8x8 (128 KB)</tspan><tspan x="165.5" dy="3">in=256, out=512, kernel_size=(3, 3), stride=(2, 2), padding=(1, 1)</tspan><tspan x="165.5" dy="3">params: 512x256x3x3</tspan><tspan x="165.5" dy="3">@encoder.layer4.0.conv1</tspan></text></g>

<g id="n_l3_1_relu2"><rect class="w" x="205.7" y="872.3" width="26.6" height="10"/><text class="t" y="875.2"><tspan x="219" class="b">relu_13_69</tspan><tspan x="219" dy="3">1x256x16x16 (256 KB)</tspan><tspan x="219" dy="3">@encoder.layer3.1.relu:2</tspan></text></g>
<g id="n_l3_1_add"><ellipse class="e" cx="219" cy="893.3" rx="18.5" ry="4.5"/><text class="t" y="892.7"><tspan x="219" class="b">add_6_68</tspan><tspan x="219" dy="3">1x256x16x16 (256 KB)</tspan></text></g>
<g id="n_l3_1_bn2"><rect class="g" x="198.3" y="905" width="34" height="17.3"/><text class="t" y="908.6"><tspan x="215.3" class="b">batchnorm_15_67</tspan><tspan x="215.3" dy="3">1x256x16x16 (256 KB)</tspan><tspan x="215.3" dy="3">running_mean, running_var</tspan><tspan x="215.3" dy="3">params: x256, x256</tspan><tspan x="215.3" dy="3">@encoder.layer3.1.bn2</tspan></text></g>
<g id="n_l3_1_conv2"><rect class="g" x="178.3" y="928.3" width="66.7" height="16.7"/><text class="t" y="931.6"><tspan x="211.7" class="b">conv2d_15_66</tspan><tspan x="211.7" dy="3">1x256x16x16 (256 KB)</tspan><tspan x="211.7" dy="3">in=256, out=256, kernel_size=(3, 3), padding=(1, 1)</tspan><tspan x="211.7" dy="3">params: 256x256x3x3</tspan><tspan x="211.7" dy="3">@encoder.layer3.1.conv2</tspan></text></g>
<g id="n_l3_1_relu1"><rect class="w" x="198.3" y="950.7" width="27.4" height="10"/><text class="t" y="953.6"><tspan x="212" class="b">relu_12_65</tspan><tspan x="212" dy="3">1x256x16x16 (256 KB)</tspan><tspan x="212" dy="3">@encoder.layer3.1.relu:1</tspan></text></g>
<g id="n_l3_1_bn1"><rect class="g" x="195" y="966.7" width="34.3" height="17.3"/><text class="t" y="970.2"><tspan x="212.2" class="b">batchnorm_14_64</tspan><tspan x="212.2" dy="3">1x256x16x16 (256 KB)</tspan><tspan x="212.2" dy="3">running_mean, running_var</tspan><tspan x="212.2" dy="3">params: x256, x256</tspan><tspan x="212.2" dy="3">@encoder.layer3.1.bn1</tspan></text></g>
<g id="n_l3_1_conv1"><rect class="g" x="178.3" y="989.3" width="66.7" height="17.4"/><text class="t" y="992.9"><tspan x="211.7" class="b">conv2d_14_63</tspan><tspan x="211.7" dy="3">1x256x16x16 (256 KB)</tspan><tspan x="211.7" dy="3">in=256, out=256, kernel_size=(3, 3), padding=(1, 1)</tspan><tspan x="211.7" dy="3">params: 256x256x3x3</tspan><tspan x="211.7" dy="3">@encoder.layer3.1.conv1</tspan></text></g>
<g id="n_l3_0_relu2"><rect class="w" x="200.7" y="1019.3" width="26" height="10"/><text class="t" y="1022.2"><tspan x="213.7" class="b">relu_11_62</tspan><tspan x="213.7" dy="3">1x256x16x16 (256 KB)</tspan><tspan x="213.7" dy="3">@encoder.layer3.0.relu:2</tspan></text></g>
<g id="n_l3_0_add"><ellipse class="e" cx="213.3" cy="1040" rx="18.5" ry="4.5"/><text class="t" y="1039.4"><tspan x="213.3" class="b">add_5_61</tspan><tspan x="213.3" dy="3">1x256x16x16 (256 KB)</tspan></text></g>
<g id="n_l3_0_bn2"><rect class="g" x="137.7" y="1056.7" width="35" height="17.3"/><text class="t" y="1060.2"><tspan x="155.2" class="b">batchnorm_12_59</tspan><tspan x="155.2" dy="3">1x256x16x16 (256 KB)</tspan><tspan x="155.2" dy="3">running_mean, running_var</tspan><tspan x="155.2" dy="3">params: x256, x256</tspan><tspan x="155.2" dy="3">@encoder.layer3.0.bn2</tspan></text></g>
<g id="n_l3_0_dsbn"><rect class="g" x="199.3" y="1056.7" width="35.7" height="17.3"/><text class="t" y="1060.2"><tspan x="217.2" class="b">batchnorm_13_60</tspan><tspan x="217.2" dy="3">1x256x16x16 (256 KB)</tspan><tspan x="217.2" dy="3">running_mean, running_var</tspan><tspan x="217.2" dy="3">params: x256, x256</tspan><tspan x="217.2" dy="3">@encoder.layer3.0.downsample.1</tspan></text></g>
<g id="n_l3_0_dsconv"><rect class="g" x="187.3" y="1079" width="64.4" height="16.7"/><text class="t" y="1082.2"><tspan x="219.5" class="b">conv2d_13_58</tspan><tspan x="219.5" dy="3">1x256x16x16 (256 KB)</tspan><tspan x="219.5" dy="3">in=128, out=256, kernel_size=(1, 1), stride=(2, 2)</tspan><tspan x="219.5" dy="3">params: 256x128x1x1</tspan><tspan x="219.5" dy="3">@encoder.layer3.0.downsample.0</tspan></text></g>
<g id="n_l3_0_conv2"><rect class="g" x="114.3" y="1079" width="66.7" height="16.7"/><text class="t" y="1082.2"><tspan x="147.7" class="b">conv2d_12_57</tspan><tspan x="147.7" dy="3">1x256x16x16 (256 KB)</tspan><tspan x="147.7" dy="3">in=256, out=256, kernel_size=(3, 3), padding=(1, 1)</tspan><tspan x="147.7" dy="3">params: 256x256x3x3</tspan><tspan x="147.7" dy="3">@encoder.layer3.0.conv2</tspan></text></g>
<g id="n_l3_0_relu1"><rect class="w" x="138.3" y="1101" width="27.4" height="10.7"/><text class="t" y="1104.2"><tspan x="152" class="b">relu_10_56</tspan><tspan x="152" dy="3">1x256x16x16 (256 KB)</tspan><tspan x="152" dy="3">@encoder.layer3.0.relu:1</tspan></text></g>
<g id="n_l3_0_bn1"><rect class="g" x="143.3" y="1117.7" width="35.7" height="17.3"/><text class="t" y="1121.2"><tspan x="161.2" class="b">batchnorm_11_55</tspan><tspan x="161.2" dy="3">1x256x16x16 (256 KB)</tspan><tspan x="161.2" dy="3">running_mean, running_var</tspan><tspan x="161.2" dy="3">params: x256, x256</tspan><tspan x="161.2" dy="3">@encoder.layer3.0.bn1</tspan></text></g>
<g id="n_l3_0_conv1"><rect class="g" x="126.7" y="1140" width="77.6" height="17.7"/><text class="t" y="1143.7"><tspan x="165.5" class="b">conv2d_11_54</tspan><tspan x="165.5" dy="3">1x256x16x16 (256 KB)</tspan><tspan x="165.5" dy="3">in=128, out=256, kernel_size=(3, 3), stride=(2, 2), padding=(1, 1)</tspan><tspan x="165.5" dy="3">params: 256x128x3x3</tspan><tspan x="165.5" dy="3">@encoder.layer3.0.conv1</tspan></text></g>

<g id="n_l2_1_relu2"><rect class="w" x="205.7" y="1182.7" width="26.6" height="10.6"/><text class="t" y="1185.9"><tspan x="219" class="b">relu_9_53</tspan><tspan x="219" dy="3">1x128x32x32 (512 KB)</tspan><tspan x="219" dy="3">@encoder.layer2.1.relu:2</tspan></text></g>
<g id="n_l2_1_add"><ellipse class="e" cx="219" cy="1204" rx="18.5" ry="4.5"/><text class="t" y="1203.4"><tspan x="219" class="b">add_4_52</tspan><tspan x="219" dy="3">1x128x32x32 (512 KB)</tspan></text></g>
<g id="n_l2_1_bn2"><rect class="g" x="194.3" y="1215" width="35" height="17.7"/><text class="t" y="1218.7"><tspan x="211.8" class="b">batchnorm_10_51</tspan><tspan x="211.8" dy="3">1x128x32x32 (512 KB)</tspan><tspan x="211.8" dy="3">running_mean, running_var</tspan><tspan x="211.8" dy="3">params: x128, x128</tspan><tspan x="211.8" dy="3">@encoder.layer2.1.bn2</tspan></text></g>
<g id="n_l2_1_conv2"><rect class="g" x="175.7" y="1238.3" width="66" height="16.7"/><text class="t" y="1241.6"><tspan x="208.7" class="b">conv2d_10_50</tspan><tspan x="208.7" dy="3">1x128x32x32 (512 KB)</tspan><tspan x="208.7" dy="3">in=128, out=128, kernel_size=(3, 3), padding=(1, 1)</tspan><tspan x="208.7" dy="3">params: 128x128x3x3</tspan><tspan x="208.7" dy="3">@encoder.layer2.1.conv2</tspan></text></g>
<g id="n_l2_1_relu1"><rect class="w" x="195.7" y="1260.7" width="26" height="10"/><text class="t" y="1263.6"><tspan x="208.7" class="b">relu_8_49</tspan><tspan x="208.7" dy="3">1x128x32x32 (512 KB)</tspan><tspan x="208.7" dy="3">@encoder.layer2.1.relu:1</tspan></text></g>
<g id="n_l2_1_bn1"><rect class="g" x="190.7" y="1276.7" width="35" height="17.3"/><text class="t" y="1280.2"><tspan x="208.2" class="b">batchnorm_9_48</tspan><tspan x="208.2" dy="3">1x128x32x32 (512 KB)</tspan><tspan x="208.2" dy="3">running_mean, running_var</tspan><tspan x="208.2" dy="3">params: x128, x128</tspan><tspan x="208.2" dy="3">@encoder.layer2.1.bn1</tspan></text></g>
<g id="n_l2_1_conv1"><rect class="g" x="175.7" y="1299.3" width="66" height="17.4"/><text class="t" y="1302.9"><tspan x="208.7" class="b">conv2d_9_47</tspan><tspan x="208.7" dy="3">1x128x32x32 (512 KB)</tspan><tspan x="208.7" dy="3">in=128, out=128, kernel_size=(3, 3), padding=(1, 1)</tspan><tspan x="208.7" dy="3">params: 128x128x3x3</tspan><tspan x="208.7" dy="3">@encoder.layer2.1.conv1</tspan></text></g>
<g id="n_l2_0_relu2"><rect class="w" x="197.3" y="1329.3" width="26" height="10"/><text class="t" y="1332.2"><tspan x="210.3" class="b">relu_7_46</tspan><tspan x="210.3" dy="3">1x128x32x32 (512 KB)</tspan><tspan x="210.3" dy="3">@encoder.layer2.0.relu:2</tspan></text></g>
<g id="n_l2_0_add"><ellipse class="e" cx="210" cy="1351" rx="19" ry="4.7"/><text class="t" y="1350.4"><tspan x="210" class="b">add_3_45</tspan><tspan x="210" dy="3">1x128x32x32 (512 KB)</tspan></text></g>
<g id="n_l2_0_dsbn"><rect class="g" x="195.7" y="1366" width="34.3" height="17.3"/><text class="t" y="1369.6"><tspan x="212.8" class="b">batchnorm_8_44</tspan><tspan x="212.8" dy="3">1x128x32x32 (512 KB)</tspan><tspan x="212.8" dy="3">running_mean, running_var</tspan><tspan x="212.8" dy="3">params: x128, x128</tspan><tspan x="212.8" dy="3">@encoder.layer2.0.downsample.1</tspan></text></g>
<g id="n_l2_0_dsconv"><rect class="g" x="188.3" y="1389.3" width="63.4" height="16.7"/><text class="t" y="1392.6"><tspan x="220" class="b">conv2d_8_43</tspan><tspan x="220" dy="3">1x128x32x32 (512 KB)</tspan><tspan x="220" dy="3">in=64, out=128, kernel_size=(1, 1), stride=(2, 2)</tspan><tspan x="220" dy="3">params: 128x64x1x1</tspan><tspan x="220" dy="3">@encoder.layer2.0.downsample.0</tspan></text></g>
<g id="n_l2_0_bn2"><rect class="g" x="139" y="1366" width="35" height="17.3"/><text class="t" y="1369.6"><tspan x="156.5" class="b">batchnorm_7_42</tspan><tspan x="156.5" dy="3">1x128x32x32 (512 KB)</tspan><tspan x="156.5" dy="3">running_mean, running_var</tspan><tspan x="156.5" dy="3">params: x128, x128</tspan><tspan x="156.5" dy="3">@encoder.layer2.0.bn2</tspan></text></g>
<g id="n_l2_0_conv2"><rect class="g" x="115.7" y="1389.3" width="66" height="16.7"/><text class="t" y="1392.6"><tspan x="148.7" class="b">conv2d_7_41</tspan><tspan x="148.7" dy="3">1x128x32x32 (512 KB)</tspan><tspan x="148.7" dy="3">in=128, out=128, kernel_size=(3, 3), padding=(1, 1)</tspan><tspan x="148.7" dy="3">params: 128x128x3x3</tspan><tspan x="148.7" dy="3">@encoder.layer2.0.conv2</tspan></text></g>
<g id="n_l2_0_relu1"><rect class="w" x="139.3" y="1411.7" width="26.7" height="10.6"/><text class="t" y="1414.9"><tspan x="152.7" class="b">relu_6_40</tspan><tspan x="152.7" dy="3">1x128x32x32 (512 KB)</tspan><tspan x="152.7" dy="3">@encoder.layer2.0.relu:1</tspan></text></g>
<g id="n_l2_0_bn1"><rect class="g" x="144.3" y="1427.7" width="34.7" height="17.3"/><text class="t" y="1431.2"><tspan x="161.7" class="b">batchnorm_6_39</tspan><tspan x="161.7" dy="3">1x128x32x32 (512 KB)</tspan><tspan x="161.7" dy="3">running_mean, running_var</tspan><tspan x="161.7" dy="3">params: x128, x128</tspan><tspan x="161.7" dy="3">@encoder.layer2.0.bn1</tspan></text></g>
<g id="n_l2_0_conv1"><rect class="g" x="127.3" y="1451" width="77" height="16.7"/><text class="t" y="1454.2"><tspan x="165.8" class="b">conv2d_6_38</tspan><tspan x="165.8" dy="3">1x128x32x32 (512 KB)</tspan><tspan x="165.8" dy="3">in=64, out=128, kernel_size=(3, 3), stride=(2, 2), padding=(1, 1)</tspan><tspan x="165.8" dy="3">params: 128x64x3x3</tspan><tspan x="165.8" dy="3">@encoder.layer2.0.conv1</tspan></text></g>

<g id="n_l1_1_relu2"><rect class="w" x="207.3" y="1492.7" width="25" height="10"/><text class="t" y="1495.6"><tspan x="219.8" class="b">relu_5_37</tspan><tspan x="219.8" dy="3">1x64x64x64 (1.0 MB)</tspan><tspan x="219.8" dy="3">@encoder.layer1.1.relu:2</tspan></text></g>
<g id="n_l1_1_add"><ellipse class="e" cx="219.3" cy="1514.3" rx="16.7" ry="4.5"/><text class="t" y="1513.7"><tspan x="219.3" class="b">add_2_36</tspan><tspan x="219.3" dy="3">1x64x64x64 (1.0 MB)</tspan></text></g>
<g id="n_l1_1_bn2"><rect class="g" x="196" y="1525" width="32.3" height="17.3"/><text class="t" y="1528.6"><tspan x="212.2" class="b">batchnorm_5_35</tspan><tspan x="212.2" dy="3">1x64x64x64 (1.0 MB)</tspan><tspan x="212.2" dy="3">running_mean, running_var</tspan><tspan x="212.2" dy="3">params: x64, x64</tspan><tspan x="212.2" dy="3">@encoder.layer1.1.bn2</tspan></text></g>
<g id="n_l1_1_conv2"><rect class="g" x="176" y="1548.3" width="64.7" height="16.7"/><text class="t" y="1551.6"><tspan x="208.3" class="b">conv2d_5_34</tspan><tspan x="208.3" dy="3">1x64x64x64 (1.0 MB)</tspan><tspan x="208.3" dy="3">in=64, out=64, kernel_size=(3, 3), padding=(1, 1)</tspan><tspan x="208.3" dy="3">params: 64x64x3x3</tspan><tspan x="208.3" dy="3">@encoder.layer1.1.conv2</tspan></text></g>
<g id="n_l1_1_relu1"><rect class="w" x="195.7" y="1570" width="26" height="10.7"/><text class="t" y="1573.2"><tspan x="208.7" class="b">relu_4_33</tspan><tspan x="208.7" dy="3">1x64x64x64 (1.0 MB)</tspan><tspan x="208.7" dy="3">@encoder.layer1.1.relu:1</tspan></text></g>
<g id="n_l1_1_bn1"><rect class="g" x="191.7" y="1586.7" width="32.6" height="17.6"/><text class="t" y="1590.4"><tspan x="208" class="b">batchnorm_4_32</tspan><tspan x="208" dy="3">1x64x64x64 (1.0 MB)</tspan><tspan x="208" dy="3">running_mean, running_var</tspan><tspan x="208" dy="3">params: x64, x64</tspan><tspan x="208" dy="3">@encoder.layer1.1.bn1</tspan></text></g>
<g id="n_l1_1_conv1"><rect class="g" x="176" y="1609.3" width="64.7" height="17.4"/><text class="t" y="1612.9"><tspan x="208.3" class="b">conv2d_4_31</tspan><tspan x="208.3" dy="3">1x64x64x64 (1.0 MB)</tspan><tspan x="208.3" dy="3">in=64, out=64, kernel_size=(3, 3), padding=(1, 1)</tspan><tspan x="208.3" dy="3">params: 64x64x3x3</tspan><tspan x="208.3" dy="3">@encoder.layer1.1.conv1</tspan></text></g>
<g id="n_l1_0_relu2"><rect class="w" x="207.3" y="1639.3" width="25" height="10.7"/><text class="t" y="1642.6"><tspan x="219.8" class="b">relu_3_30</tspan><tspan x="219.8" dy="3">1x64x64x64 (1.0 MB)</tspan><tspan x="219.8" dy="3">@encoder.layer1.0.relu:2</tspan></text></g>
<g id="n_l1_0_add"><ellipse class="e" cx="219.3" cy="1661" rx="16.7" ry="4.5"/><text class="t" y="1660.4"><tspan x="219.3" class="b">add_1_29</tspan><tspan x="219.3" dy="3">1x64x64x64 (1.0 MB)</tspan></text></g>
<g id="n_l1_0_bn2"><rect class="g" x="196" y="1671.7" width="32.3" height="17.3"/><text class="t" y="1675.2"><tspan x="212.2" class="b">batchnorm_3_28</tspan><tspan x="212.2" dy="3">1x64x64x64 (1.0 MB)</tspan><tspan x="212.2" dy="3">running_mean, running_var</tspan><tspan x="212.2" dy="3">params: x64, x64</tspan><tspan x="212.2" dy="3">@encoder.layer1.0.bn2</tspan></text></g>
<g id="n_l1_0_conv2"><rect class="g" x="176" y="1695" width="64.7" height="16.7"/><text class="t" y="1698.2"><tspan x="208.3" class="b">conv2d_3_27</tspan><tspan x="208.3" dy="3">1x64x64x64 (1.0 MB)</tspan><tspan x="208.3" dy="3">in=64, out=64, kernel_size=(3, 3), padding=(1, 1)</tspan><tspan x="208.3" dy="3">params: 64x64x3x3</tspan><tspan x="208.3" dy="3">@encoder.layer1.0.conv2</tspan></text></g>
<g id="n_l1_0_relu1"><rect class="w" x="195.7" y="1717.3" width="25" height="10"/><text class="t" y="1720.2"><tspan x="208.2" class="b">relu_2_26</tspan><tspan x="208.2" dy="3">1x64x64x64 (1.0 MB)</tspan><tspan x="208.2" dy="3">@encoder.layer1.0.relu:1</tspan></text></g>
<g id="n_l1_0_bn1"><rect class="g" x="191.7" y="1733.3" width="32.6" height="17.4"/><text class="t" y="1736.9"><tspan x="208" class="b">batchnorm_2_25</tspan><tspan x="208" dy="3">1x64x64x64 (1.0 MB)</tspan><tspan x="208" dy="3">running_mean, running_var</tspan><tspan x="208" dy="3">params: x64, x64</tspan><tspan x="208" dy="3">@encoder.layer1.0.bn1</tspan></text></g>
<g id="n_l1_0_conv1"><rect class="g" x="176" y="1756" width="64.7" height="17.3"/><text class="t" y="1759.6"><tspan x="208.3" class="b">conv2d_2_24</tspan><tspan x="208.3" dy="3">1x64x64x64 (1.0 MB)</tspan><tspan x="208.3" dy="3">in=64, out=64, kernel_size=(3, 3), padding=(1, 1)</tspan><tspan x="208.3" dy="3">params: 64x64x3x3</tspan><tspan x="208.3" dy="3">@encoder.layer1.0.conv1</tspan></text></g>

<g id="n_maxpool"><rect class="w" x="208.3" y="1780.7" width="34" height="13.3"/><text class="t" y="1783.7"><tspan x="225.3" class="b">maxpool2d_1_23</tspan><tspan x="225.3" dy="3">1x64x64x64 (1.0 MB)</tspan><tspan x="225.3" dy="3">kernel_size=3, stride=2, padding=1</tspan><tspan x="225.3" dy="3">@encoder.maxpool</tspan></text></g>
<g id="n_relu1"><rect class="w" x="212.7" y="1799.3" width="25.6" height="10.7"/><text class="t" y="1802.6"><tspan x="225.5" class="b">relu_1_22</tspan><tspan x="225.5" dy="3">1x64x128x128 (4.0 MB)</tspan><tspan x="225.5" dy="3">@encoder.relu</tspan></text></g>
<g id="n_bn1"><rect class="g" x="209.3" y="1816" width="33" height="17.3"/><text class="t" y="1819.6"><tspan x="225.8" class="b">batchnorm_1_21</tspan><tspan x="225.8" dy="3">1x64x128x128 (4.0 MB)</tspan><tspan x="225.8" dy="3">running_mean, running_var</tspan><tspan x="225.8" dy="3">params: x64, x64</tspan><tspan x="225.8" dy="3">@encoder.bn1</tspan></text></g>
<g id="n_conv1"><rect class="g" x="188.3" y="1839.3" width="75" height="16.4"/><text class="t" y="1842.4"><tspan x="225.8" class="b">conv2d_1_20</tspan><tspan x="225.8" dy="3">1x64x128x128 (4.0 MB)</tspan><tspan x="225.8" dy="3">in=3, out=64, kernel_size=(7, 7), stride=(2, 2), padding=(3, 3)</tspan><tspan x="225.8" dy="3">params: 64x3x7x7</tspan><tspan x="225.8" dy="3">@encoder.conv1</tspan></text></g>
<g id="n_size"><rect class="w" x="266.7" y="1842.3" width="26" height="10"/><text class="t" y="1845.2"><tspan x="279.7" class="b">getattr_1_2</tspan><tspan x="279.7" dy="3">x4 (32 B)</tspan><tspan x="279.7" dy="3">@shape</tspan></text></g>
<g id="n_input"><ellipse cx="252.7" cy="1868.3" rx="19.2" ry="7.5" fill="#98fb98" stroke="#555" stroke-width=".3"/><text class="t" y="1866.2"><tspan x="252.7" class="b">input_1</tspan><tspan x="252.7" dy="3">1x3x256x256 (768 KB)</tspan><tspan x="252.7" dy="3">@input</tspan></text></g>
</svg>
